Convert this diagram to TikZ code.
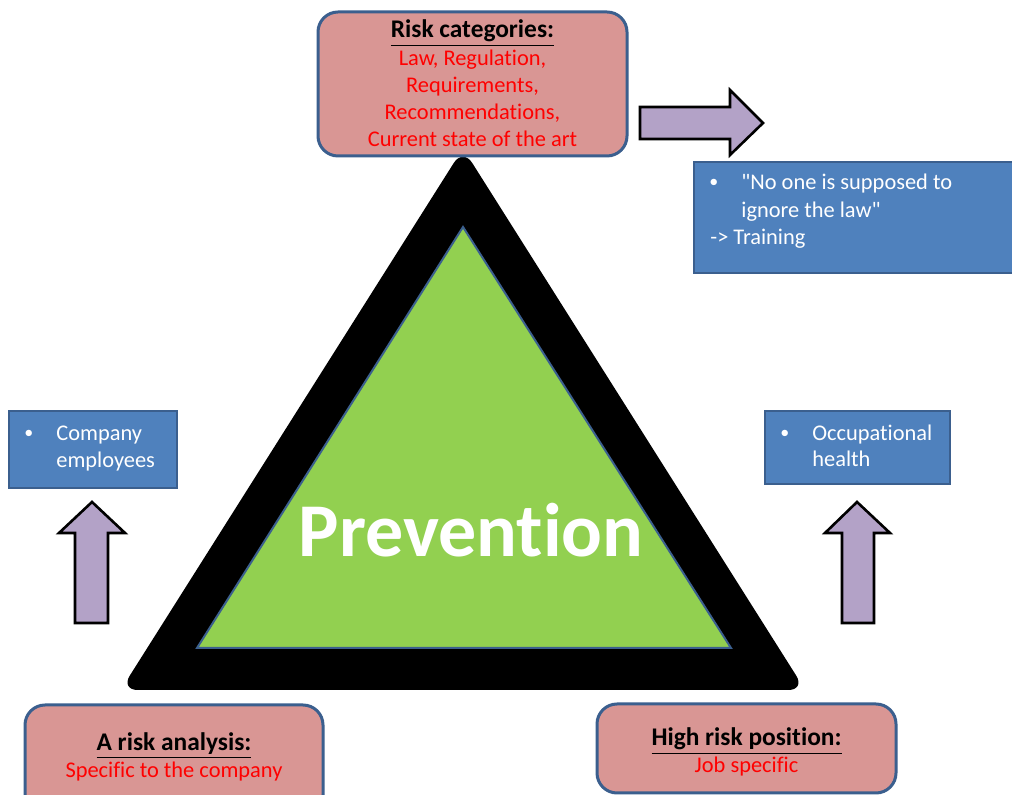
\documentclass[tikz,border=0pt]{standalone}
\usepackage{fontspec}
\setmainfont{Carlito}[Ligatures={TeXOff,CommonOff}]
\definecolor{pinkfill}{HTML}{D99694}
\definecolor{boxedge}{HTML}{3B5F8E}
\definecolor{bluefill}{HTML}{4F81BD}
\definecolor{lilac}{HTML}{B3A2C7}
\definecolor{leaf}{HTML}{92D050}
\definecolor{alert}{HTML}{FF0000}
\begin{document}
\begin{tikzpicture}[x=0.5pt,y=-0.5pt,
  catbox/.style={draw=boxedge, line width=1.5pt, fill=pinkfill, rounded corners=10pt, inner sep=0pt},
  notebox/.style={draw=boxedge, line width=1.2pt, fill=bluefill, inner sep=0pt},
  blockarrow/.style={draw=black, line width=1.3pt, fill=lilac, line join=miter},
  wtxt/.style={font=\fontsize{11.2}{13.5}\selectfont, inner sep=0pt, anchor=base west, text=white},
  dot/.style={font=\fontsize{9}{10}\selectfont, inner sep=0pt, anchor=base west, text=white},
  ttl/.style={font=\bfseries\fontsize{12.7}{14}\selectfont, inner sep=0pt, anchor=base, text=black},
  rtxt/.style={font=\fontsize{11.2}{13.5}\selectfont, inner sep=0pt, anchor=base, text=alert},
]
\clip (0,0) rectangle (1012,795);
\fill[white] (0,0) rectangle (1012,795);

% central triangle: black frame and green face
\fill[black, rounded corners=8.5pt] (463,148.4) -- (805.3,690) -- (120.7,690) -- cycle;
\draw[boxedge, line width=1pt, fill=leaf] (463,227) -- (731,648) -- (197,648) -- cycle;
\node[font=\bfseries\fontsize{38}{42}\selectfont, text=white, inner sep=0pt] (prev) at (471,530) {Prevention};

% top category box
\node[catbox, minimum width=154.5pt, minimum height=72pt] (cats) at (472.5,84) {};
\node[ttl] (catsT) at (472.5,38) {\underline{Risk categories:}};
\node[rtxt] (cats1) at (472.5,66) {Law, Regulation,};
\node[rtxt] (cats2) at (472.5,93) {Requirements,};
\node[rtxt] (cats3) at (472.5,120) {Recommendations,};
\node[rtxt] (cats4) at (472.5,147) {Current state of the art};

% bottom left category box
\node[catbox, minimum width=149pt, minimum height=55pt] (ana) at (174,760) {};
\node[ttl] (anaT) at (174,751) {\underline{A risk analysis:}};
\node[rtxt] (ana1) at (174,778) {Specific to the company};

% bottom right category box
\node[catbox, minimum width=149.5pt, minimum height=44.5pt] (job) at (746.5,748.5) {};
\node[ttl] (jobT) at (746.5,746) {\underline{High risk position:}};
\node[rtxt] (job1) at (746.5,773) {Job specific};

% block arrows
\draw[blockarrow] (640,107) -- (730,107) -- (730,90) -- (763,123) -- (730,155) -- (730,139) -- (640,139) -- cycle;
\draw[blockarrow] (75,623) -- (75,533) -- (59,533) -- (92,502) -- (125,533) -- (108,533) -- (108,623) -- cycle;
\draw[blockarrow] (842,623) -- (842,533) -- (825,533) -- (857,502) -- (890,533) -- (874,533) -- (874,623) -- cycle;

% blue note boxes
\node[notebox, minimum width=168pt, minimum height=55.5pt] (law) at (862,217.5) {};
\node[dot] (lawB) at (709,188) {•};
\node[wtxt] (law1) at (741,190) {"No one is supposed to};
\node[wtxt] (law2) at (741,218) {ignore the law"};
\node[wtxt] (law3) at (710,245) {-> Training};

\node[notebox, minimum width=84pt, minimum height=38.5pt] (emp) at (93,449.5) {};
\node[dot] (empB) at (24,439) {•};
\node[wtxt] (emp1) at (56,441) {Company};
\node[wtxt] (emp2) at (56,468) {employees};

\node[notebox, minimum width=92.5pt, minimum height=36.5pt] (occ) at (857.5,447.5) {};
\node[dot] (occB) at (780,439) {•};
\node[wtxt] (occ1) at (812,441) {Occupational};
\node[wtxt] (occ2) at (812,467) {health};
\end{tikzpicture}
\end{document}
